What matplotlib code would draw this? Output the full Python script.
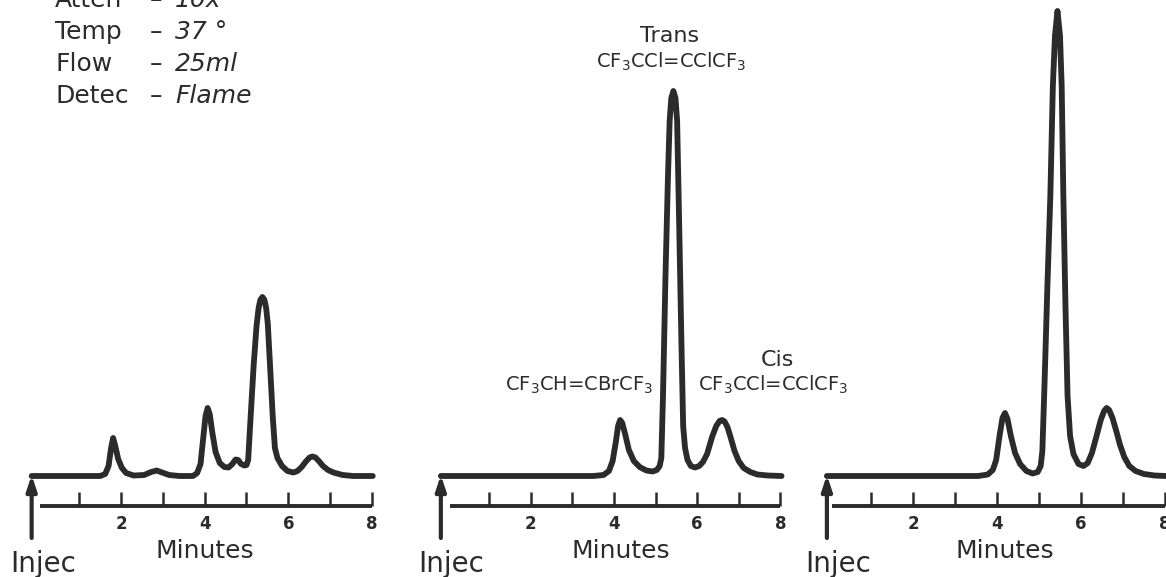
import matplotlib

matplotlib.use("Agg")
import matplotlib.pyplot as plt

plt.rcParams["font.family"] = "DejaVu Sans"
plt.rcParams["mathtext.default"] = "regular"

W, H = 1166, 577
INK = "#2b2b2b"

# run conditions printed in the corner
COND_NAMES = ["Atten", "Temp", "Flow", "Detec"]
COND_VALUES = ["10x", "37 °", "25ml", "Flame"]

# recorder traces: minutes after injection vs. pen deflection
BLANK_MIN = [-0.14, 1.50, 1.62, 1.70, 1.76, 1.81, 1.86, 1.93, 2.02, 2.12, 2.30,
             2.55, 2.72, 2.85, 2.98, 3.15, 3.40, 3.72, 3.82, 3.90, 3.97, 4.02,
             4.07, 4.12, 4.18, 4.26, 4.36, 4.47, 4.57, 4.66, 4.74, 4.80, 4.87,
             4.95, 5.00, 5.04, 5.10, 5.17, 5.24, 5.29, 5.33, 5.38, 5.43, 5.47,
             5.51, 5.57, 5.63, 5.68, 5.74, 5.85, 5.98, 6.12, 6.22, 6.32, 6.42,
             6.51, 6.58, 6.65, 6.73, 6.83, 6.95, 7.08, 7.30, 7.55, 8.02]
BLANK_SIG = [0, 0, 2, 10, 28, 38, 30, 17, 8, 3, 0.5,
             1, 4, 5.5, 3.5, 1, 0, 0, 3, 12, 40, 60,
             68, 62, 44, 24, 13, 9, 8.5, 12, 16.5, 16, 12,
             10.5, 11, 16, 60, 110, 150, 168, 176, 179, 176, 168,
             152, 105, 58, 28, 18, 10, 5, 3.5, 5, 9, 14.5,
             18.5, 19.5, 18.5, 15, 10, 6, 3.5, 1, 0, 0]

MIX_MIN = [-0.16, 3.50, 3.75, 3.88, 3.97, 4.05, 4.10, 4.15, 4.20, 4.27, 4.36,
           4.48, 4.62, 4.78, 4.93, 5.03, 5.10, 5.14, 5.18, 5.24, 5.30, 5.34,
           5.38, 5.43, 5.48, 5.52, 5.57, 5.62, 5.665, 5.71, 5.77, 5.85, 5.95,
           6.05, 6.14, 6.24, 6.36, 6.46, 6.54, 6.60, 6.66, 6.73, 6.81, 6.90,
           7.00, 7.12, 7.28, 7.45, 7.70, 8.03]
MIX_SIG = [0, 0, 1, 5, 15, 35, 50, 56, 53, 42, 26,
           15, 9, 5.5, 4.5, 6, 10, 18, 80, 200, 300, 355,
           378, 385, 378, 355, 250, 140, 50, 28, 16, 10, 8.5,
           10, 14, 22, 39, 50, 55, 56, 54.5, 49, 38, 25,
           15, 8, 4, 1.5, 0.5, 0]

PURE_MIN = [-0.05, 3.55, 3.78, 3.90, 3.98, 4.06, 4.13, 4.19, 4.25, 4.33, 4.43,
            4.55, 4.70, 4.85, 4.97, 5.04, 5.08, 5.13, 5.20, 5.27, 5.33, 5.38,
            5.44, 5.50, 5.54, 5.58, 5.63, 5.68, 5.74, 5.82, 5.94, 6.06, 6.16,
            6.26, 6.37, 6.47, 6.55, 6.61, 6.67, 6.75, 6.84, 6.93, 7.03, 7.15,
            7.30, 7.50, 7.75, 8.02]
PURE_SIG = [0, 0, 1.5, 6, 16, 40, 58, 63, 57, 40, 23,
            12, 5, 2.5, 4, 10, 25, 90, 190, 280, 390, 440,
            465, 440, 390, 280, 170, 80, 40, 22, 12, 10, 13,
            23, 40, 56, 65, 68, 66, 58, 45, 31, 19, 10,
            5, 2, 0.5, 0]

TICK_MINUTES = [1, 2, 3, 4, 5, 6, 7, 8]
TICK_LABELS = [2, 4, 6, 8]

# one entry per strip: zero-minute position (px), px per minute, trace, labels
PANELS = [
    dict(x0=37.5, ppm=41.8, t=BLANK_MIN, s=BLANK_SIG, arrow=-0.14, ruler=0.06,
         injec=-0.66, minutes=4.0),
    dict(x0=447.5, ppm=41.6, t=MIX_MIN, s=MIX_SIG, arrow=-0.16, ruler=0.05,
         injec=-0.71, minutes=4.17),
    dict(x0=829.0, ppm=42.0, t=PURE_MIN, s=PURE_SIG, arrow=-0.05, ruler=0.07,
         injec=-0.57, minutes=4.19),
]
BASE_PX = 476
XMIN, XMAX = -1.0, 8.8
YMIN, YMAX = -110, 480


def make_axes(fig, x0, ppm):
    """Axes in minutes / deflection units, 1 unit of deflection = 1 px."""
    left = (x0 + XMIN * ppm) / W
    width = (XMAX - XMIN) * ppm / W
    bottom = (H - (BASE_PX - YMIN)) / H
    height = (YMAX - YMIN) / H
    ax = fig.add_axes([left, bottom, width, height])
    ax.set_xlim(XMIN, XMAX)
    ax.set_ylim(YMIN, YMAX)
    ax.axis("off")
    return ax


def draw_strip(ax, p):
    ax.plot(p["t"], p["s"], color=INK, lw=4.2, solid_joinstyle="round",
            solid_capstyle="round", clip_on=False)

    # time ruler under the trace
    ax.plot([p["ruler"], 8.0], [-30, -30], color=INK, lw=2.8,
            solid_capstyle="butt", clip_on=False)
    ax.vlines(TICK_MINUTES, -30, -16, color=INK, lw=1.8, clip_on=False)
    for m in TICK_LABELS:
        ax.text(m, -48, str(m), ha="center", va="center", fontsize=12,
                fontweight="bold", color=INK, clip_on=False)
    ax.text(p["minutes"], -75, "Minutes", ha="center", va="center",
            fontsize=18, color=INK)

    # injection marker
    ax.annotate("", xy=(p["arrow"], 1), xytext=(p["arrow"], -62),
                arrowprops=dict(arrowstyle="-|>,head_length=0.9,head_width=0.3",
                                color=INK, lw=3.0, shrinkA=0, shrinkB=0))
    ax.text(p["injec"], -96, "Injec", ha="left", va="baseline", fontsize=20,
            color=INK)


fig = plt.figure(figsize=(W / 100, H / 100), dpi=100)
fig.patch.set_facecolor("white")

axes = []
for p in PANELS:
    ax = make_axes(fig, p["x0"], p["ppm"])
    draw_strip(ax, p)
    axes.append(ax)

# peak identification on the mixture run
mix = axes[1]
mix.text(5.35, 440, "Trans", ha="center", va="center", fontsize=16, color=INK)
mix.text(5.38, 414, "CF$_3$CCl=CClCF$_3$", ha="center", va="center",
         fontsize=14, color=INK)
mix.text(4.94, 91, "CF$_3$CH=CBrCF$_3$", ha="right", va="center",
         fontsize=14, color=INK)
mix.text(7.92, 116, "Cis", ha="center", va="center", fontsize=16, color=INK)
mix.text(6.02, 91, "CF$_3$CCl=CClCF$_3$", ha="left", va="center",
         fontsize=14, color=INK)

# run conditions, top left
for i, (name, value) in enumerate(zip(COND_NAMES, COND_VALUES)):
    y = 1 - (7 + 32 * i) / H
    fig.text(55 / W, y, name, ha="left", va="baseline", fontsize=18, color=INK)
    fig.text(150 / W, y, "–", ha="left", va="baseline", fontsize=18, color=INK)
    fig.text(175 / W, y, value, ha="left", va="baseline", fontsize=18,
             style="italic", color=INK)

fig.savefig("out.png", dpi=100, facecolor="white")
